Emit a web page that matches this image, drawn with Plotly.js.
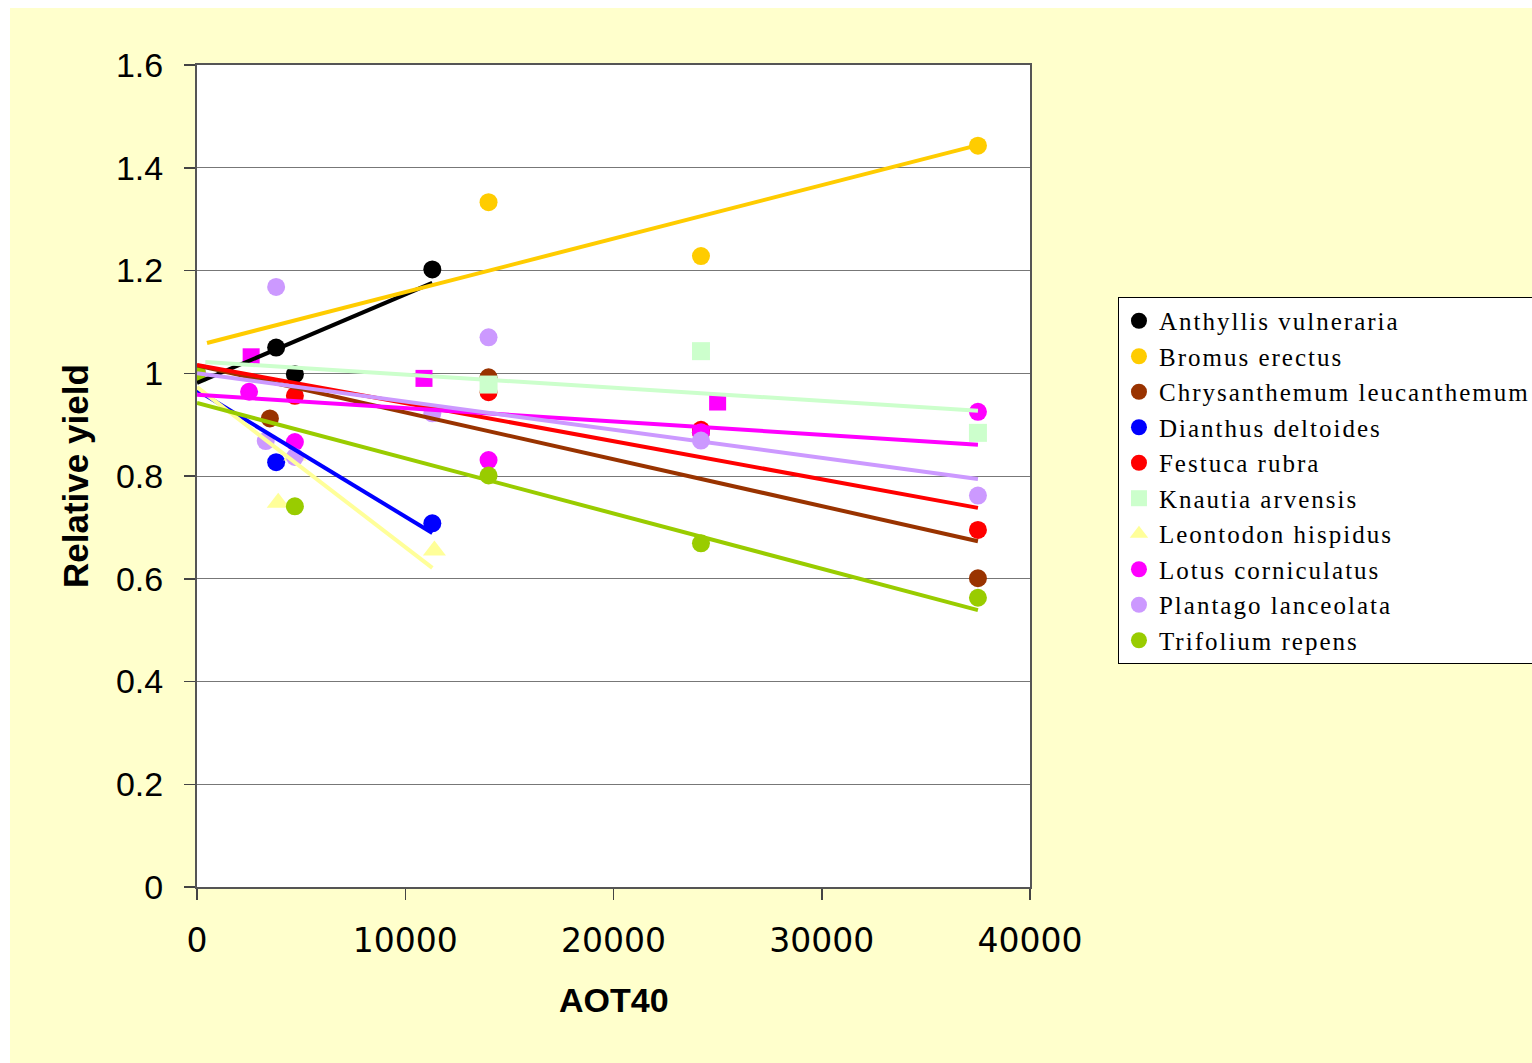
<!DOCTYPE html>
<html>
<head>
<meta charset="utf-8">
<script src="https://cdn.plot.ly/plotly-3.0.1.min.js"></script>
<style>
  html, body { margin: 0; padding: 0; background: #ffffff; width: 1532px; height: 1063px; overflow: hidden; }
  #chart { position: absolute; left: 10px; top: 8px; width: 1522px; height: 1055px; }
  .legendtext { letter-spacing: 2px; }
</style>
</head>
<body>
<div id="chart"></div>
<script>
// ---- Data ----
const seriesNames = ["Anthyllis vulneraria", "Bromus erectus", "Chrysanthemum leucanthemum",
  "Dianthus deltoides", "Festuca rubra", "Knautia arvensis", "Leontodon hispidus",
  "Lotus corniculatus", "Plantago lanceolata", "Trifolium repens"];

const anthyllisX = [0, 3800, 4700, 11300];
const anthyllisY = [1.0, 1.05, 0.998, 1.202];
const bromusX = [0, 14000, 24200, 37500];
const bromusY = [1.0, 1.333, 1.228, 1.443];
const chrysX = [0, 3500, 14000, 24200, 37500];
const chrysY = [1.0, 0.912, 0.992, 0.885, 0.601];
const dianthusX = [0, 3800, 11300];
const dianthusY = [1.0, 0.827, 0.708];
const festucaX = [0, 4700, 14000, 24200, 37500];
const festucaY = [1.0, 0.956, 0.963, 0.89, 0.695];
const knautiaX = [0, 14000, 24200, 37500];
const knautiaY = [1.0, 0.978, 1.043, 0.884];
const leontodonX = [0, 3900, 4700, 11400];
const leontodonY = [1.0, 0.748, 0.84, 0.655];
const lotusX = [0, 2500, 4700, 14000, 24200, 37500];
const lotusY = [1.0, 0.964, 0.866, 0.831, 0.885, 0.925];
const lotusSqX = [0, 2600, 10900, 25000];
const lotusSqY = [1.0, 1.032, 0.99, 0.944];
const plantagoX = [0, 3300, 3800, 4700, 11300, 14000, 24200, 37500];
const plantagoY = [1.0, 0.868, 1.168, 0.837, 0.922, 1.07, 0.869, 0.762];
const trifoliumX = [0, 4700, 14000, 24200, 37500];
const trifoliumY = [1.0, 0.741, 0.801, 0.669, 0.563];

// Trend line end points
const trendX = [[0, 11300], [480, 37500], [0, 37500], [0, 11300], [0, 37500],
  [400, 37500], [0, 11300], [0, 37500], [0, 37500], [0, 37500]];
const trendY = [[0.981, 1.176], [1.059, 1.444], [1.015, 0.673], [0.967, 0.689], [1.016, 0.738],
  [1.022, 0.927], [0.973, 0.621], [0.958, 0.861], [1.0, 0.794], [0.942, 0.539]];

const xTicks = [0, 10000, 20000, 30000, 40000];
const yTicks = [0, 0.2, 0.4, 0.6, 0.8, 1, 1.2, 1.4, 1.6];

// ---- Styles ----
const colors = ["#000000", "#FFCC00", "#993300", "#0000FF", "#FF0000", "#CCFFCC",
  "#FFFF99", "#FF00FF", "#CC99FF", "#99CC00"];
const symbols = ["circle", "circle", "circle", "circle", "circle", "square",
  "triangle-up", "circle", "circle", "circle"];
const xs = [anthyllisX, bromusX, chrysX, dianthusX, festucaX, knautiaX, leontodonX, lotusX, plantagoX, trifoliumX];
const ys = [anthyllisY, bromusY, chrysY, dianthusY, festucaY, knautiaY, leontodonY, lotusY, plantagoY, trifoliumY];

const traces = [];
// Extra magenta squares (not in legend) drawn first
traces.push({
  x: lotusSqX, y: lotusSqY, type: "scatter", mode: "markers", showlegend: false,
  marker: { symbol: "square", size: 17, color: "#FF00FF" }, hoverinfo: "x+y"
});
for (let i = 0; i < seriesNames.length; i++) {
  traces.push({
    x: xs[i], y: ys[i], type: "scatter", mode: "markers", name: seriesNames[i],
    marker: { symbol: symbols[i], size: symbols[i] === "triangle-up" ? 20 : 18, color: colors[i], line: { width: 0 } }
  });
}
for (let i = 0; i < seriesNames.length; i++) {
  traces.push({
    x: trendX[i], y: trendY[i], type: "scatter", mode: "lines", showlegend: false,
    line: { color: colors[i], width: 4 }, hoverinfo: "skip"
  });
}

const layout = {
  width: 1522, height: 1055,
  paper_bgcolor: "#FFFFCC",
  plot_bgcolor: "#FFFFFF",
  margin: { l: 187, r: 502, t: 57, b: 176, autoexpand: false },
  font: { family: "Liberation Sans, Arial, sans-serif", color: "#000000" },
  xaxis: {
    range: [0, 40000], tickvals: xTicks, ticktext: xTicks.map(String),
    showgrid: false, zeroline: false,
    showline: true, mirror: true, linecolor: "#555555", linewidth: 2,
    ticks: "outside", ticklen: 11, tickcolor: "#444444", tickwidth: 1.5,
    tickfont: { size: 33, family: "DejaVu Sans, sans-serif" }, ticklabelstandoff: 12
  },
  yaxis: {
    range: [0, 1.6], tickvals: yTicks, ticktext: yTicks.map(String),
    showgrid: true, gridcolor: "#777777", gridwidth: 1, zeroline: false,
    showline: true, mirror: true, linecolor: "#555555", linewidth: 2,
    ticks: "outside", ticklen: 11, tickcolor: "#444444", tickwidth: 1.5,
    tickfont: { size: 34 }, ticklabelstandoff: 14
  },
  legend: {
    x: 1.1056, xanchor: "left", y: 0.7178, yanchor: "top",
    bgcolor: "#FFFFFF", bordercolor: "#000000", borderwidth: 1,
    font: { family: "Liberation Serif, Times New Roman, serif", size: 25, color: "#000000" },
    itemwidth: 30, traceorder: "normal"
  },
  annotations: [
    { text: "<b>AOT40</b>", xref: "paper", yref: "paper", x: 0.5, y: -0.138,
      xanchor: "center", yanchor: "middle", showarrow: false, font: { size: 34 } },
    { text: "<b>Relative yield</b>", xref: "paper", yref: "paper", x: -0.1465, y: 0.5,
      xanchor: "center", yanchor: "middle", showarrow: false, textangle: -90, font: { size: 35 } }
  ]
};

Plotly.newPlot("chart", traces, layout, { displayModeBar: false, staticPlot: true });
</script>
</body>
</html>
